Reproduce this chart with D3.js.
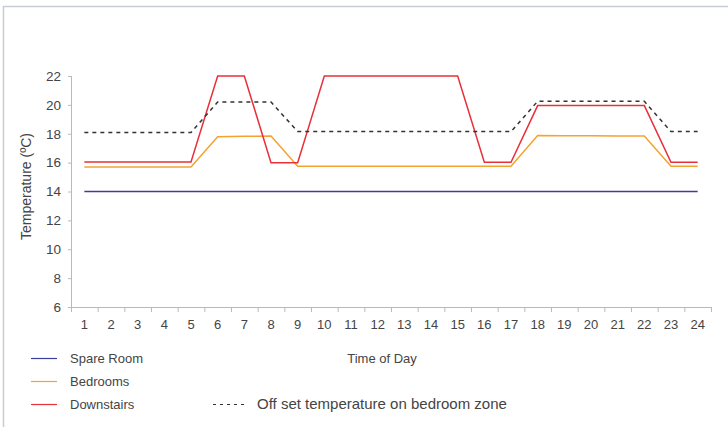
<!DOCTYPE html>
<html>
<head>
<meta charset="utf-8">
<script src="https://cdn.jsdelivr.net/npm/d3@7"></script>
<style>
  body { margin: 0; background: #fff; }
  text { font-family: "Liberation Sans", Arial, sans-serif; fill: #444; }
</style>
</head>
<body>
<div id="chart"></div>
<script>
// dane
const hours = d3.range(1, 25);
const spareRoom = [14,14,14,14,14,14,14,14,14,14,14,14,14,14,14,14,14,14,14,14,14,14,14,14];
const bedrooms = [15.7,15.7,15.7,15.7,15.7,17.8,17.82,17.85,15.75,15.75,15.75,15.75,15.75,15.75,15.75,15.75,15.75,17.88,17.87,17.86,17.85,17.84,15.75,15.75];
const downstairs = [16.05,16.05,16.05,16.05,16.05,22,22,16,16,22,22,22,22,22,22,16.02,16.02,19.95,19.95,19.95,19.95,19.95,16.02,16.02];
const offset = [18.08,18.08,18.08,18.08,18.08,20.2,20.2,20.2,18.15,18.15,18.15,18.15,18.15,18.15,18.15,18.15,18.15,20.25,20.25,20.25,20.25,20.25,18.15,18.15];
const yTicks = [6, 8, 10, 12, 14, 16, 18, 20, 22];

const width = 728, height = 427;
const margin = { top: 76, right: 17, bottom: 120, left: 71 };

const svg = d3.select('#chart').append('svg')
  .attr('width', width)
  .attr('height', height);

// ramka
svg.append('path')
  .attr('d', `M3.5,${height} V6.5 H${width}`)
  .attr('fill', 'none')
  .attr('stroke', '#c8ccd3')
  .attr('stroke-width', 1.5);

const x = d3.scaleBand()
  .domain(hours)
  .range([margin.left, width - margin.right]);

const y = d3.scaleLinear()
  .domain([6, 22])
  .range([height - margin.bottom, margin.top]);

const axisColor = '#b4bac4';

// os X - kreski na granicach pasm
const gx = svg.append('g');
gx.append('line')
  .attr('x1', x.range()[0]).attr('x2', x.range()[1])
  .attr('y1', y(6) + 0.5).attr('y2', y(6) + 0.5)
  .attr('stroke', axisColor);
gx.selectAll('line.tick')
  .data(hours.concat([25]))
  .join('line')
  .attr('class', 'tick')
  .attr('x1', d => (d <= 24 ? x(d) : x(24) + x.bandwidth()) + 0.5)
  .attr('x2', d => (d <= 24 ? x(d) : x(24) + x.bandwidth()) + 0.5)
  .attr('y1', y(6)).attr('y2', y(6) + 5)
  .attr('stroke', axisColor);
gx.selectAll('text')
  .data(hours)
  .join('text')
  .attr('x', d => x(d) + x.bandwidth() / 2)
  .attr('y', y(6) + 22)
  .attr('text-anchor', 'middle')
  .attr('font-size', 13)
  .text(d => d);

// os Y
const gy = svg.append('g');
gy.append('line')
  .attr('x1', margin.left + 0.5).attr('x2', margin.left + 0.5)
  .attr('y1', y(22)).attr('y2', y(6))
  .attr('stroke', axisColor);
gy.selectAll('line.tick')
  .data(yTicks)
  .join('line')
  .attr('class', 'tick')
  .attr('x1', margin.left - 3).attr('x2', margin.left)
  .attr('y1', d => y(d) + 0.5).attr('y2', d => y(d) + 0.5)
  .attr('stroke', axisColor);
gy.selectAll('text')
  .data(yTicks)
  .join('text')
  .attr('x', margin.left - 10)
  .attr('y', d => y(d))
  .attr('dy', '0.36em')
  .attr('text-anchor', 'end')
  .attr('font-size', 13.5)
  .text(d => d);

svg.append('text')
  .attr('transform', `translate(31,${(y(6) + y(22)) / 2 - 5}) rotate(-90)`)
  .attr('text-anchor', 'middle')
  .attr('font-size', 14)
  .text('Temperature (ºC)');

// linie
const line = d3.line()
  .x((d, i) => x(hours[i]) + x.bandwidth() / 2)
  .y(d => y(d));

const series = [
  { name: 'Spare Room', values: spareRoom, color: '#3b3f9c', dash: null },
  { name: 'Bedrooms', values: bedrooms, color: '#f5a22f', dash: null },
  { name: 'Downstairs', values: downstairs, color: '#e8303a', dash: null },
  { name: 'Off set temperature on bedroom zone', values: offset, color: '#333', dash: '4,4' }
];

svg.append('g')
  .selectAll('path')
  .data(series)
  .join('path')
  .attr('d', d => line(d.values))
  .attr('fill', 'none')
  .attr('stroke', d => d.color)
  .attr('stroke-width', 1.5)
  .attr('stroke-dasharray', d => d.dash);

// legenda
const legendPos = [
  { x: 31, y: 358, tx: 70, size: 13 },
  { x: 31, y: 381, tx: 70, size: 13 },
  { x: 31, y: 404, tx: 70, size: 13 },
  { x: 213, y: 404, tx: 257, size: 15 }
];
const lg = svg.append('g')
  .selectAll('g')
  .data(series)
  .join('g');
lg.append('line')
  .attr('x1', (d, i) => legendPos[i].x)
  .attr('x2', (d, i) => legendPos[i].x + (d.dash ? 32 : 26))
  .attr('y1', (d, i) => legendPos[i].y + 0.5)
  .attr('y2', (d, i) => legendPos[i].y + 0.5)
  .attr('stroke', d => d.color)
  .attr('stroke-width', 1.2)
  .attr('stroke-dasharray', d => d.dash ? '3,4' : null);
lg.append('text')
  .attr('x', (d, i) => legendPos[i].tx)
  .attr('y', (d, i) => legendPos[i].y)
  .attr('dy', '0.36em')
  .attr('font-size', (d, i) => legendPos[i].size)
  .text(d => d.name);

svg.append('text')
  .attr('x', 382)
  .attr('y', 358)
  .attr('dy', '0.36em')
  .attr('text-anchor', 'middle')
  .attr('font-size', 13)
  .text('Time of Day');
</script>
</body>
</html>
